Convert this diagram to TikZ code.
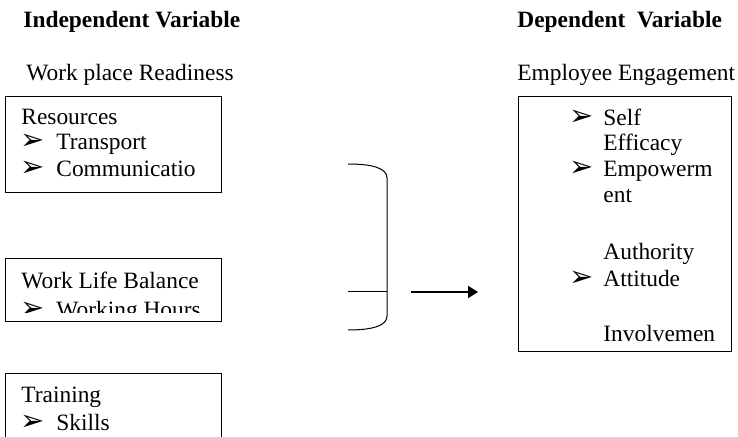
\documentclass[12pt,tikz,border=0pt]{standalone}
\usepackage{fontspec}
\setmainfont{Liberation Serif}
\newfontfamily\dingfont{DejaVu Sans}
\usetikzlibrary{arrows,arrows.meta,positioning}
\tikzset{
myHead/.style={
	anchor=base west, inner sep=0pt, font=\bfseries
}
, myText/.style={
	anchor=base west, inner sep=0pt
}
, myBullet/.style={
	anchor=base west, inner sep=0pt, font=\dingfont\fontsize{14.5pt}{16pt}\selectfont
}
% frames
, myBox/.style={black, line width=0.5pt}
, myBrace/.style={black, line width=0.5pt}
% link
, myLink/.style={-{Triangle[length=5pt,width=6pt]}, black, line width=1pt}
}

\begin{document}
\fontsize{11.7pt}{14pt}\selectfont
\begin{tikzpicture}[x=0.5pt, y=-0.5pt]
	\useasboundingbox (0,0) rectangle (738,437);
	% headings
	\node[myHead] (IndepHead) at (23,28) {Independent Variable};
	\node[myText] (IndepName) at (26,81) {Work place Readiness};
	\node[myHead] (DepHead) at (517,28) {Dependent~~Variable};
	\node[myText] (DepName) at (517,81) {Employee Engagement};

	% resources
	\draw[myBox] (5,97) rectangle (221,193);
	\node[myText] (Resources) at (21,125) {Resources};
	\node[myBullet] (BulTransport) at (20,150) {➢};
	\node[myText] (Transport) at (56,150) {Transport};
	\node[myBullet] (BulComm) at (20,177) {➢};
	\node[myText] (Comm) at (56,177) {Communicatio};

	% work life balance
	\draw[myBox] (5,259) rectangle (221,322);
	\node[myText] (Balance) at (21,289) {Work Life Balance};
	\begin{scope}
		\clip (5,259) rectangle (221,313);
		\node[myBullet] (BulHours) at (20,318) {➢};
		\node[myText] (Hours) at (56,318) {Working Hours};
	\end{scope}

	% training
	\draw[myBox] (5,437) -- (5,374) -- (221,374) -- (221,437);
	\node[myText] (Training) at (21,403) {Training};
	\node[myBullet] (BulSkills) at (20,431) {➢};
	\node[myText] (Skills) at (56,431) {Skills};

	% engagement
	\draw[myBox] (518,97) rectangle (731,352);
	\node[myBullet] (BulSelf) at (569,126) {➢};
	\node[myText] (Self) at (603,126) {Self};
	\node[myText] (Efficacy) at (603,151) {Efficacy};
	\node[myBullet] (BulEmpower) at (569,177) {➢};
	\node[myText] (Empower) at (603,177) {Empowerm};
	\node[myText] (EmpowerB) at (603,203) {ent};
	\node[myText] (Authority) at (603,260) {Authority};
	\node[myBullet] (BulAttitude) at (569,287) {➢};
	\node[myText] (Attitude) at (603,287) {Attitude};
	\node[myText] (Involve) at (603,342) {Involvemen};

	% brace
	\coordinate (BraceTop) at (348,164);
	\coordinate (BraceBot) at (348,330);
	\coordinate (BraceMid) at (348,292);
	\coordinate (BraceJoin) at (387,292);
	\draw[myBrace] (BraceTop) .. controls (372,164) and (387,168) .. (387,178)
		-- (387,316) .. controls (387,326) and (372,330) .. (BraceBot);
	\draw[myBrace] (BraceMid) -- (BraceJoin);

	% links
	\coordinate (LinkFrom) at (411,292);
	\coordinate (LinkTo) at (478,292);
	\draw[myLink] (LinkFrom) -- (LinkTo);
\end{tikzpicture}
\end{document}
